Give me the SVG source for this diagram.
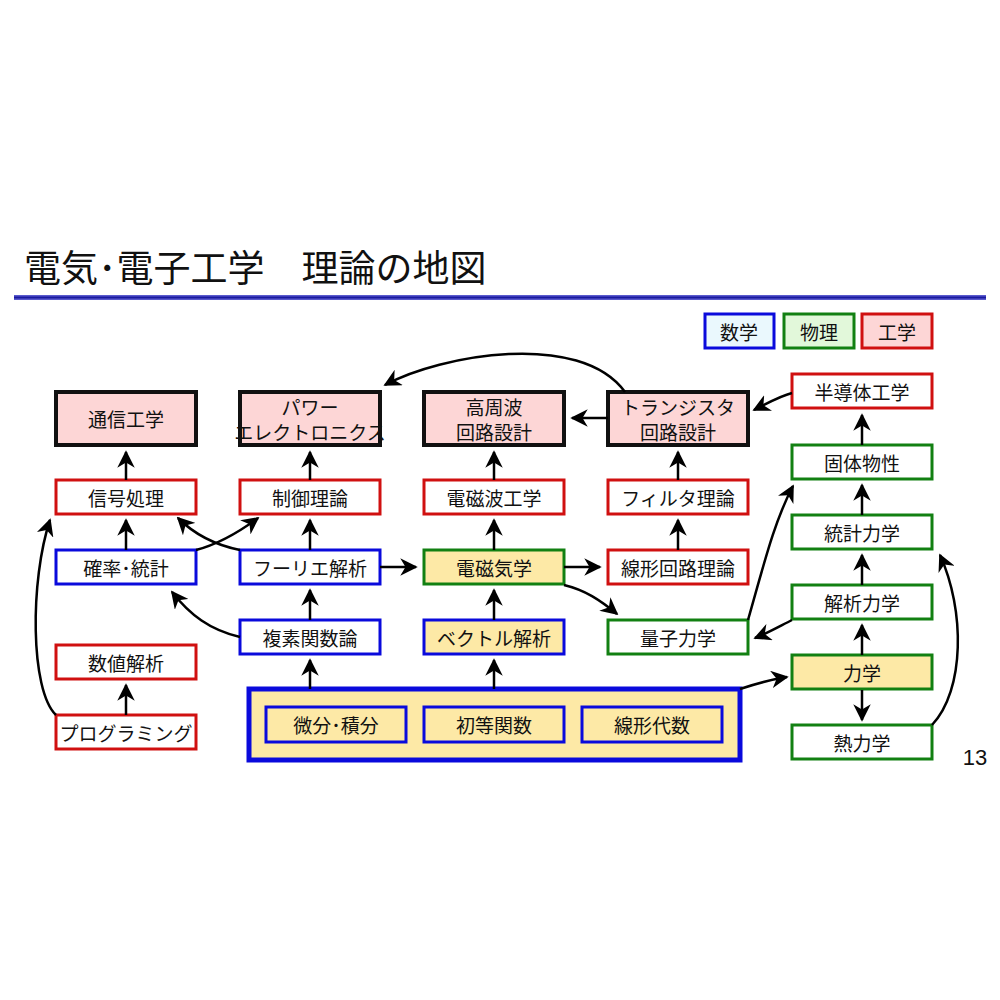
<svg xmlns="http://www.w3.org/2000/svg" width="1000" height="1000" viewBox="0 0 1000 1000">
<defs>
<marker id="a" viewBox="0 0 10 10" refX="9" refY="5" markerWidth="7" markerHeight="7" orient="auto-start-reverse"><path d="M0,0 L10,5 L0,10 L3,5 z" fill="#000"/></marker>
<linearGradient id="hl" x1="0" y1="0" x2="0" y2="1"><stop offset="0" stop-color="#6a6ad8"/><stop offset="0.5" stop-color="#1a1aa0"/><stop offset="1" stop-color="#6a6ad8"/></linearGradient>
</defs>
<style>
text{font-family:"Noto Sans CJK JP","Liberation Sans",sans-serif;font-size:19px;text-anchor:middle;dominant-baseline:central;fill:#111}
.m{fill:#fff;stroke:#0a0adc;stroke-width:3}
.p{fill:#fff;stroke:#128012;stroke-width:3}
.e{fill:#fff;stroke:#d01010;stroke-width:3}
.k{fill:#fdd6d6;stroke:#111;stroke-width:4}
.y{fill:#fde9a6}
.c{fill:none;stroke:#000;stroke-width:2.5;marker-end:url(#a)}
</style>
<rect width="1000" height="1000" fill="#fff"/>
<text x="24" y="266" style="font-size:37px;text-anchor:start">電気･電子工学　理論の地図</text>
<rect x="14" y="295" width="972" height="5" fill="url(#hl)"/>
<text x="975" y="757" style="font-family:'Liberation Sans',sans-serif;font-size:22px">13</text>
<g id="legend">
<rect x="705" y="314" width="69" height="34" class="m" style="fill:#eaf8fd"/><text x="739" y="331">数学</text>
<rect x="784" y="314" width="70" height="34" class="p" style="fill:#e2f8da"/><text x="819" y="331">物理</text>
<rect x="862" y="314" width="70" height="34" class="e" style="fill:#fdd6d6"/><text x="897" y="331">工学</text>
</g>
<g id="n_tsushin"><rect x="56" y="392" width="140" height="53" class="k"/><text x="126" y="418">通信工学</text></g>
<g id="n_power"><rect x="240" y="392" width="140" height="53" class="k"/><text x="310" y="406">パワー</text><text x="310" y="431">エレクトロニクス</text></g>
<g id="n_koshuha"><rect x="424" y="392" width="140" height="53" class="k"/><text x="494" y="406">高周波</text><text x="494" y="431">回路設計</text></g>
<g id="n_tr"><rect x="608" y="392" width="140" height="53" class="k"/><text x="678" y="406">トランジスタ</text><text x="678" y="431">回路設計</text></g>
<g id="n_shingo"><rect x="56" y="480" width="140" height="34" class="e"/><text x="126" y="497">信号処理</text></g>
<g id="n_seigyo"><rect x="240" y="480" width="140" height="34" class="e"/><text x="310" y="497">制御理論</text></g>
<g id="n_denjiha"><rect x="424" y="480" width="140" height="34" class="e"/><text x="494" y="497">電磁波工学</text></g>
<g id="n_filter"><rect x="608" y="480" width="140" height="34" class="e"/><text x="678" y="497">フィルタ理論</text></g>
<g id="n_kakuritsu"><rect x="56" y="550" width="140" height="34" class="m"/><text x="126" y="567">確率･統計</text></g>
<g id="n_fourier"><rect x="240" y="550" width="140" height="34" class="m"/><text x="310" y="567">フーリエ解析</text></g>
<g id="n_denjiki"><rect x="424" y="550" width="140" height="34" class="p y"/><text x="494" y="567">電磁気学</text></g>
<g id="n_senkei"><rect x="608" y="550" width="140" height="34" class="e"/><text x="678" y="567">線形回路理論</text></g>
<g id="n_fukuso"><rect x="240" y="620" width="140" height="34" class="m"/><text x="310" y="637">複素関数論</text></g>
<g id="n_vector"><rect x="424" y="620" width="140" height="34" class="m y"/><text x="494" y="637">ベクトル解析</text></g>
<g id="n_ryoshi"><rect x="608" y="620" width="140" height="34" class="p"/><text x="678" y="637">量子力学</text></g>
<g id="n_suchi"><rect x="56" y="645" width="140" height="34" class="e"/><text x="126" y="662">数値解析</text></g>
<g id="n_prog"><rect x="56" y="715" width="140" height="34" class="e"/><text x="126" y="732">プログラミング</text></g>
<g id="n_handotai"><rect x="792" y="374" width="140" height="34" class="e"/><text x="862" y="391">半導体工学</text></g>
<g id="n_kotai"><rect x="792" y="445" width="140" height="34" class="p"/><text x="862" y="462">固体物性</text></g>
<g id="n_tokei"><rect x="792" y="515" width="140" height="34" class="p"/><text x="862" y="532">統計力学</text></g>
<g id="n_kaiseki"><rect x="792" y="585" width="140" height="34" class="p"/><text x="862" y="602">解析力学</text></g>
<g id="n_rikigaku"><rect x="792" y="655" width="140" height="34" class="p y"/><text x="862" y="672">力学</text></g>
<g id="n_netsu"><rect x="792" y="725" width="140" height="34" class="p"/><text x="862" y="742">熱力学</text></g>
<g id="n_base"><rect x="249" y="689" width="491" height="71" fill="#fde9a6" stroke="#0a0adc" stroke-width="5"/>
<rect x="266" y="707" width="140" height="35" class="m y"/><text x="336" y="724">微分･積分</text>
<rect x="424" y="707" width="140" height="35" class="m y"/><text x="494" y="724">初等関数</text>
<rect x="582" y="707" width="140" height="35" class="m y"/><text x="652" y="724">線形代数</text></g>
<g id="connectors">
<path class="c" d="M126,480 V452"/>
<path class="c" d="M310,480 V452"/>
<path class="c" d="M494,480 V452"/>
<path class="c" d="M678,480 V452"/>
<path class="c" d="M126,550 V520"/>
<path class="c" d="M310,550 V520"/>
<path class="c" d="M494,550 V520"/>
<path class="c" d="M678,550 V520"/>
<path class="c" d="M310,620 V590"/>
<path class="c" d="M494,620 V590"/>
<path class="c" d="M310,689 V660"/>
<path class="c" d="M494,689 V660"/>
<path class="c" d="M126,715 V685"/>
<path class="c" d="M608,418 H572"/>
<path class="c" d="M380,567 H416"/>
<path class="c" d="M564,567 H600"/>
<path class="c" d="M625,392 C580,330 440,355 385,385"/>
<path class="c" d="M792,393 C780,396 770,402 754,410"/>
<path class="c" d="M862,445 V415"/>
<path class="c" d="M862,515 V485"/>
<path class="c" d="M862,585 V555"/>
<path class="c" d="M862,655 V625"/>
<path class="c" d="M862,690 V720"/>
<path class="c" d="M792,620 C780,626 770,632 755,638"/>
<path class="c" d="M564,585 C585,590 600,600 617,614"/>
<path class="c" d="M748,620 C765,560 775,520 793,486"/>
<path class="c" d="M740,689 C755,684 768,680 787,677"/>
<path class="c" d="M932,725 C965,690 965,610 940,555"/>
<path class="c" d="M56,715 C30,690 30,580 50,520"/>
<path class="c" d="M196,550 C215,545 235,535 258,518"/>
<path class="c" d="M240,550 C215,545 195,535 178,518"/>
<path class="c" d="M240,637 C210,630 190,615 172,592"/>
</g>
</svg>
